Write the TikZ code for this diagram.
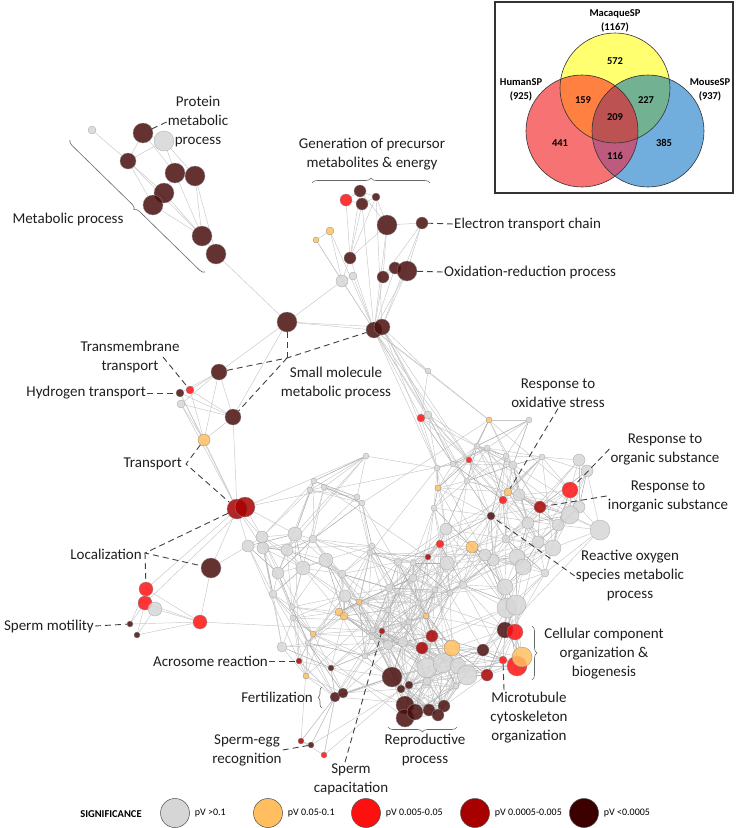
\documentclass[tikz,border=0pt]{standalone}
\usepackage{fontspec}
\setmainfont{Carlito}
\usepackage{tikz}
\usetikzlibrary{positioning, calc, backgrounds, decorations.pathreplacing}

\definecolor{pvgrey}{HTML}{D6D6D6}
\definecolor{pvorange}{HTML}{FFBF60}
\definecolor{pvred}{HTML}{FF1010}
\definecolor{pvdark}{HTML}{A80000}
\definecolor{pvdeep}{HTML}{3C0000}
\definecolor{netbrown}{HTML}{4A0E0E}
\definecolor{vyellow}{HTML}{FFFF70}
\definecolor{vred}{HTML}{F77272}
\definecolor{vblue}{HTML}{72AEDD}
\definecolor{vorange}{HTML}{FF8040}
\definecolor{vgreen}{HTML}{72B292}
\definecolor{vpurple}{HTML}{BE5A7E}
\definecolor{vcentre}{HTML}{BD5252}

\tikzset{
  nd/.style={circle, inner sep=0pt, minimum size=#1, draw=black!45, line width=0.3pt, fill opacity=0.85},
  gy/.style={fill=pvgrey, draw=gray!70},
  og/.style={fill=pvorange},
  rd/.style={fill=pvred},
  dr/.style={fill=pvdark},
  bn/.style={fill=netbrown},
  lnk/.style={draw=gray!45, line width=0.45pt},
  lnkd/.style={draw=gray!70, line width=0.5pt},
  lead/.style={draw=black!75, line width=0.9pt, dash pattern=on 6pt off 4pt},
  brc/.style={draw=gray!80!black, line width=0.6pt, decorate, decoration={brace, amplitude=#1}},
  brc/.default=5pt,
  lbl/.style={font=\fontsize{15}{19}\selectfont, text=black!88, align=center, inner sep=1pt},
  vt/.style={font=\bfseries\fontsize{10.5}{12}\selectfont, inner sep=0pt},
  ltx/.style={font=\fontsize{10}{11}\selectfont, anchor=west, inner sep=0pt},
}

% central cluster: x/y/size/colour/alias
\def\meshlist{428/371/6/gy/tail1, 421/418/8/rd/tail2, 428/415/8/gy/tail3, 489/420/6/og/tail6, 529/420/6/gy/z,
  477/446/6/gy/z, 487/448/6/gy/z, 469/460/6/rd/tail4, 506/456/6/gy/z, 542/457/6/gy/z, 513/465/8/gy/z,
  453/464/6/gy/tail7, 437/468/6/gy/tail5, 467/481/6/gy/tail8, 438/488/6/og/z, 434/508/6/gy/z,
  579/460/12/gy/z, 587/471/12/gy/z, 570/490/16/rd/rorg, 540/507/12/dr/rinorg, 508/492/8/og/roxi,
  503/500/8/rd/z, 491/516/8/bn/ros, 519/495/12/gy/z, 579/507/12/gy/z, 570/515/18/gy/z, 600/530/20/gy/z,
  558/525/12/gy/z, 528/523/12/gy/z, 553/548/16/gy/z, 538/542/12/gy/z, 506/539/8/gy/z, 517/557/16/gy/z,
  523/567/16/gy/z, 493/560/12/gy/z, 485/555/12/gy/z, 447/563/14/gy/z, 446/529/12/gy/z, 472/547/12/og/z,
  440/544/8/rd/z, 428/557/6/dr/z, 545/573/8/gy/z, 505/587/16/gy/z, 507/608/20/gy/z, 516/605/20/gy/z,
  463/585/8/gy/z, 450/593/6/gy/z, 435/590/6/gy/z, 418/603/6/gy/z, 426/616/6/og/z, 409/622/6/gy/z,
  388/610/6/gy/z, 413/578/8/gy/z, 397/591/6/gy/z, 389/588/8/gy/z, 398/562/8/gy/z, 413/563/6/gy/z,
  372/546/6/gy/z, 370/553/6/gy/z, 366/456/6/gy/w5, 314/481/6/gy/z, 310/490/6/gy/w6, 324/487/6/gy/z,
  357/497/6/gy/z, 362/503/6/gy/z, 248/546/12/gy/w1, 262/537/12/gy/w2, 263/548/12/gy/w3, 295/534/14/gy/w4,
  287/550/12/gy/z, 313/539/8/gy/z, 326/560/14/gy/z, 303/568/14/gy/z, 278/573/12/gy/z, 273/594/8/gy/z,
  342/574/8/gy/z, 345/596/12/gy/z, 292/607/6/gy/z, 293/618/6/gy/z, 359/602/6/og/z, 339/612/8/og/z,
  344/616/8/og/z, 313/634/6/og/z, 282/647/10/gy/z, 308/643/6/gy/z, 373/630/6/gy/z, 372/637/6/gy/z,
  382/631/6/dr/capac, 388/645/10/gy/z, 403/642/10/gy/z, 365/656/6/gy/z, 299/661/6/dr/acro, 331/668/6/bn/z,
  306/676/6/og/z, 335/697/10/bn/fert, 343/693/10/bn/z, 301/741/6/dr/sg1, 311/745/6/bn/segg, 324/755/6/rd/sg3,
  427/668/20/gy/z, 443/663/20/gy/z, 458/666/16/gy/z, 467/675/20/gy/z, 427/681/8/gy/z, 456/686/6/gy/z,
  432/636/12/dr/z, 422/648/12/dr/z, 452/648/16/og/z, 483/650/12/bn/z, 487/675/12/dr/z, 505/630/16/bn/z,
  515/632/16/rd/z, 517/666/20/rd/z, 522/657/20/og/z, 503/660/8/rd/micro, 392/677/20/bn/rp1, 401/689/8/bn/z,
  409/685/8/bn/z, 405/705/18/bn/z, 405/718/18/bn/z, 415/712/16/bn/z, 429/710/12/bn/z, 444/706/12/bn/z,
  438/715/12/bn/z}

\begin{document}
\begin{tikzpicture}[x=1pt, y=-1pt]
  \useasboundingbox (0,0) rectangle (737,828);

  % metabolic process group
  \node[nd=8,gy] (m0) at (92,130) {};
  \node[nd=20,bn] (m1) at (143,133) {};
  \node[nd=20,gy] (m2) at (164,141) {};
  \node[nd=16,bn] (m3) at (128,161) {};
  \node[nd=20,bn] (m4) at (175,173) {};
  \node[nd=20,bn] (m5) at (195,176) {};
  \node[nd=20,bn] (m6) at (164,193) {};
  \node[nd=20,bn] (m7) at (153,205) {};
  \node[nd=20,bn] (m8) at (202,236) {};
  \node[nd=20,bn] (m9) at (216,254) {};
  \node[nd=20,bn] (sm) at (287,322) {};

  % precursor metabolites & energy group
  \node[nd=12,bn] (e1) at (360,191) {};
  \node[nd=12,rd] (e2) at (346,200) {};
  \node[nd=12,bn] (e3) at (362,204) {};
  \node[nd=8,bn] (e4) at (376,197) {};
  \node[nd=20,bn] (e5) at (387,225) {};
  \node[nd=12,bn] (e6) at (422,223) {};
  \node[nd=8,og] (e7) at (330,231) {};
  \node[nd=6,og] (e8) at (316,240) {};
  \node[nd=12,bn] (e9) at (350,258) {};
  \node[nd=12,gy] (e10) at (342,281) {};
  \node[nd=8,gy] (e11) at (353,276) {};
  \node[nd=12,bn] (e12) at (383,277) {};
  \node[nd=12,bn] (e13) at (395,268) {};
  \node[nd=20,bn] (e14) at (407,271) {};
  \node[nd=16,bn] (os1) at (374,330) {};
  \node[nd=16,bn] (os2) at (382,327) {};

  % transport & localization
  \node[nd=16,bn] (t1) at (219,372) {};
  \node[nd=8,rd] (tm) at (190,390) {};
  \node[nd=8,bn] (hy) at (180,393) {};
  \node[nd=8,gy] (tg) at (181,404) {};
  \node[nd=16,bn] (t3) at (233,417) {};
  \node[nd=12,og] (tr) at (204,440) {};
  \node[nd=20,dr] (lb1) at (237,509) {};
  \node[nd=20,dr] (lb2) at (245,507) {};
  \node[nd=20,bn] (lb3) at (211,568) {};
  \node[nd=14,rd] (lr1) at (146,589) {};
  \node[nd=14,rd] (lr2) at (145,603) {};
  \node[nd=14,gy] (lg) at (155,609) {};
  \node[nd=6,bn] (lm1) at (130,624) {};
  \node[nd=6,bn] (lm2) at (137,635) {};
  \node[nd=14,rd] (lr3) at (200,622) {};

  % central cluster
  \foreach \x/\y/\d/\c/\al [count=\i] in \meshlist
    \node[nd=\d, \c, alias=\al] (c\i) at (\x,\y) {};

  \begin{pgfonlayer}{background}
    \foreach \a/\b in {m0/m3, m3/m8, m1/m2, m1/m3, m2/m3, m2/m4, m2/m5, m1/m4, m3/m7, m3/m6, m4/m8,
        m5/m8, m6/m8, m7/m8, m4/m6, m5/m9, m8/m9, m9/sm, sm/t1, sm/t3, sm/os1, sm/os2, sm/e10,
        e1/e2, e1/e3, e1/e4, e2/e3, e3/e4, e1/e5, e4/e5, e2/e9, e3/e9, e1/e9, e4/e9, e5/e6, e5/e9,
        e5/e12, e5/os1, e6/e14, e6/e12, e6/os2, e7/e8, e7/e10, e8/e10, e8/os1, e7/os1, e9/e10,
        e10/os1, e11/os1, e12/os1, e13/os1, e14/os1, e13/e14, e12/e13, e4/os2, e3/os1, e9/os1,
        e11/e10, e14/os2, os1/tail1, os2/tail1, os1/tail2, os2/tail3, os1/tail3, os1/tail4,
        os2/tail4, os1/tail5, os2/tail5, os1/tail6, os2/tail7, os1/tail8, os2/tail8,
        t1/t3, t1/tm, t1/hy, t1/tg, tm/t3, hy/t3, tg/t3, tg/tr,
        hy/tr, tm/tr, tr/t3, tr/lb1, t3/lb1, tg/lb1, hy/lb1, t1/tr, lb1/w1, lb1/w2, lb1/w3,
        lb2/w4, lb2/w2, lb1/lb3, lb3/w1, lb3/lr3, lb1/lr1, lb2/lr2, lr1/lm1, lr1/lr3, lr2/lr3,
        lg/lr3, lm1/lr3, lm2/lr3, lr2/lm2, lg/lm2, lr1/lg, lr2/lm1, lr3/capac, w5/tail5, w5/w6,
        w5/w4, fert/segg, fert/sg1, fert/sg3, fert/rp1, acro/fert, tail2/tail4, w6/w2, lb2/w5,
        lb2/tail7, w1/acro, w3/fert}
      \draw[lnk] (\a) -- (\b);
    \foreach \xa/\ya/\da/\ca/\aa [count=\i] in \meshlist {
      \foreach \xb/\yb/\db/\cb/\ab [count=\j] in \meshlist {
        \ifnum\j>\i
          \pgfmathsetmacro\dx{abs(\xb-\xa)}
          \pgfmathsetmacro\dy{abs(\yb-\ya)}
          \pgfmathsetmacro\dd{max(\dx,\dy)}
          \pgfmathtruncatemacro\keep{mod(\i*7+\j*11,5)}
          \pgfmathtruncatemacro\ia{mod(\i,23)}
          \pgfmathtruncatemacro\jb{mod(\j,23)}
          \pgfmathtruncatemacro\far{mod(\ia*\jb+\i*7+\j*3,23)}
          \ifdim\dd pt<130pt
            \pgfmathsetmacro\dd{veclen(\dx,\dy)}
            \ifdim\dd pt<62pt
              \ifnum\keep>0
                \ifnum\keep=1 \draw[lnkd] (c\i) -- (c\j); \else \draw[lnk] (c\i) -- (c\j); \fi
              \fi
            \else
              \ifnum\far=0 \draw[lnk] (c\i) -- (c\j); \fi
            \fi
          \fi
        \fi
      }
    }
  \end{pgfonlayer}

  % labels
  \node[lbl] (prot) at (198,122) {Protein\\metabolic\\process};
  \node[lbl] (metl) at (68,219) {Metabolic process};
  \node[lbl] (gen) at (372,154) {Generation of precursor\\metabolites \& energy};
  \node[lbl, anchor=west] (etc) at (453,224) {Electron transport chain};
  \node[lbl, anchor=west] (oxr) at (443,272) {Oxidation-reduction process};
  \node[lbl] (tmb) at (130,357) {Transmembrane\\transport};
  \node[lbl, anchor=east] (hyd) at (147,393) {Hydrogen transport};
  \node[lbl] (smm) at (336,383) {Small molecule\\metabolic process};
  \node[lbl, anchor=east] (trl) at (183,464) {Transport};
  \node[lbl, anchor=east] (locl) at (143,554) {Localization};
  \node[lbl, anchor=east] (smo) at (95,626) {Sperm motility};
  \node[lbl, anchor=east] (acr) at (269,661) {Acrosome reaction};
  \node[lbl, anchor=east] (fer) at (314,697) {Fertilization};
  \node[lbl] (seg) at (247,750) {Sperm-egg\\recognition};
  \node[lbl] (spc) at (351,779) {Sperm\\capacitation};
  \node[lbl] (rep) at (425,750) {Reproductive\\process};
  \node[lbl] (mic) at (529,718) {Microtubule\\cytoskeleton\\organization};
  \node[lbl] (cel) at (604,654) {Cellular component\\organization \&\\biogenesis};
  \node[lbl] (rox) at (558,393) {Response to\\oxidative stress};
  \node[lbl] (rorgl) at (665,449) {Response to\\organic substance};
  \node[lbl] (ring) at (668,496) {Response to\\inorganic substance};
  \node[lbl] (roxl) at (630,576) {Reactive oxygen\\species metabolic\\process};

  % leader lines
  \coordinate (smj) at (287,358);
  \coordinate (trj) at (186,464);
  \coordinate (locj) at (145,553);
  \coordinate (tmbj) at (163,357);
  \coordinate (micj) at (504,690);
  \draw[lead] (prot.west) -- (m1);
  \draw[lead] (etc.west) -- (e6);
  \draw[lead] (oxr.west) -- (e14);
  \draw[lead] (sm) -- (smj);
  \draw[lead] (t1) -- (smj) -- (os1);
  \draw[lead] (smj) -- (t3);
  \draw[lead] (tmbj) -- (tm);
  \draw[lead] (hyd.east) -- (hy);
  \draw[lead] (tr) -- (trj) -- (lb1);
  \draw[lead] (lb1) -- (locj) -- (lb3);
  \draw[lead] (locj) -- (lr1);
  \draw[lead] (smo.east) -- (lm1);
  \draw[lead] (acr.east) -- (acro);
  \draw[lead] (seg.east) -- (segg);
  \draw[lead] ([xshift=-6pt]spc.north) -- (capac);
  \draw[lead] (micj) -- (micro);
  \draw[lead] (rox.south) -- (roxi);
  \draw[lead] (rorgl.west) -- (rorg);
  \draw[lead] (ring.west) -- (rinorg);
  \draw[lead] (roxl.west) -- (ros);

  % braces
  \draw[brc] (205,272) -- (70,140);
  \draw[brc] (312,183) -- (430,183);
  \draw[brc=4pt] (322,708) -- (322,687);
  \draw[brc] (532,626) -- (532,680);
  \draw[brc] (457,727) -- (388,727);

  % venn diagram
  \draw[line width=1.6pt, draw=black!80] (495,2) rectangle (733,193);
  \fill[vyellow] (615,88) circle (55);
  \fill[vred] (582,131) circle (56);
  \fill[vblue] (648,131) circle (56);
  \begin{scope}
    \clip (615,88) circle (55);
    \fill[vorange] (582,131) circle (56);
    \fill[vgreen] (648,131) circle (56);
  \end{scope}
  \begin{scope}
    \clip (582,131) circle (56);
    \fill[vpurple] (648,131) circle (56);
  \end{scope}
  \begin{scope}
    \clip (615,88) circle (55);
    \clip (582,131) circle (56);
    \fill[vcentre] (648,131) circle (56);
  \end{scope}
  \draw[black!80, line width=0.6pt] (615,88) circle (55) (582,131) circle (56) (648,131) circle (56);
  \node[vt, align=center] (mac) at (615,21) {MacaqueSP\\[2pt](1167)};
  \node[vt, align=center] (hum) at (521,90) {HumanSP\\[2pt](925)};
  \node[vt, align=center] (mou) at (710,90) {MouseSP\\[2pt](937)};
  \node[vt] (n572) at (615,61) {572};
  \node[vt] (n159) at (583,100) {159};
  \node[vt] (n227) at (646,100) {227};
  \node[vt] (n209) at (615,117) {209};
  \node[vt] (n441) at (560,143) {441};
  \node[vt] (n385) at (664,143) {385};
  \node[vt] (n116) at (615,156) {116};

  % legend
  \node[font=\bfseries\fontsize{10.5}{12}\selectfont] (sig) at (111,814) {SIGNIFICANCE};
  \foreach \cx/\col/\txt [count=\k] in {175/pvgrey/{pV >0.1}, 268/pvorange/{pV 0.05-0.1},
      366/pvred/{pV 0.005-0.05}, 475/pvdark/{pV 0.0005-0.005}, 584/pvdeep/{pV <0.0005}} {
    \node[circle, minimum size=29, inner sep=0pt, draw=black!70, line width=0.5pt, fill=\col] (k\k) at (\cx,813) {};
    \node[ltx] (kt\k) at ([xshift=5pt]k\k.east) {\txt};
  }
\end{tikzpicture}
\end{document}
